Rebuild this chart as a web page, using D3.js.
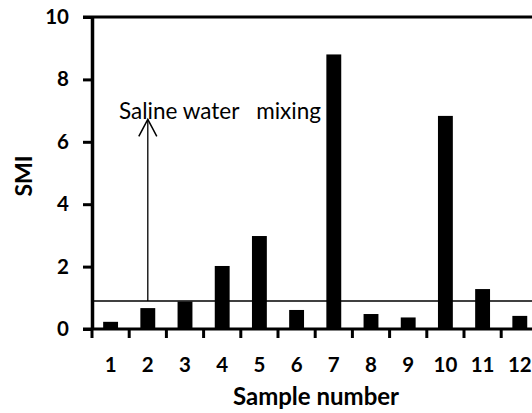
<!DOCTYPE html>
<html>
<head>
<meta charset="utf-8">
<script src="https://cdn.jsdelivr.net/npm/d3@7"></script>
<style>
  html, body { margin: 0; padding: 0; background: #fff; }
  svg { display: block; }
</style>
</head>
<body>
<svg id="chart" width="532" height="413"></svg>
<script>
// Sample numbers and their SMI values
const samples = ["1", "2", "3", "4", "5", "6", "7", "8", "9", "10", "11", "12"];
const smi = [0.23, 0.67, 0.88, 2.02, 2.98, 0.61, 8.8, 0.48, 0.37, 6.83, 1.28, 0.42];
const yTicks = [0, 2, 4, 6, 8, 10];

// Threshold line and the saline-mixing annotation
const threshold = 0.9;
const arrowSample = "2";
const arrowTop = 6.72;
const annotationText = "Saline water   mixing";

const svg = d3.select("#chart");
const W = 532, H = 413;
const plotLeft = 92, plotTop = 17, plotBottom = 329;
const step = 37.2;
const plotRight = plotLeft + step * samples.length;

const x = d3.scaleBand().domain(samples).range([plotLeft, plotRight]).paddingInner(0).paddingOuter(0);
const xBar = d3.scaleBand().domain(samples).range([plotLeft, plotRight]).paddingInner(0.6).paddingOuter(0.3);
const y = d3.scaleLinear().domain([0, 10]).range([plotBottom, plotTop]);

const font = "Lato, 'Open Sans', sans-serif";

// Bars
svg.append("g").selectAll("rect")
  .data(samples)
  .join("rect")
  .attr("x", d => xBar(d))
  .attr("width", xBar.bandwidth())
  .attr("y", (d, i) => y(smi[i]))
  .attr("height", (d, i) => y(0) - y(smi[i]))
  .attr("fill", "#000");

// Threshold line
svg.append("line")
  .attr("x1", plotLeft).attr("x2", W)
  .attr("y1", y(threshold)).attr("y2", y(threshold))
  .attr("stroke", "#000").attr("stroke-width", 1.5);

// Top frame line at the maximum of the value axis
svg.append("line")
  .attr("x1", plotLeft - 9).attr("x2", W)
  .attr("y1", y(10)).attr("y2", y(10))
  .attr("stroke", "#000").attr("stroke-width", 3);

// Y axis
const yAxis = svg.append("g")
  .attr("transform", `translate(${plotLeft},0)`)
  .call(d3.axisLeft(y).tickValues(yTicks).tickSize(9).tickPadding(14).tickSizeOuter(0));
yAxis.select(".domain").attr("stroke-width", 3.5);
yAxis.selectAll(".tick line").attr("stroke-width", 3);
yAxis.selectAll(".tick text")
  .attr("font-family", font).attr("font-weight", "bold").attr("font-size", 20.5).attr("fill", "#000");

// X axis: ticks sit on the band boundaries, labels at band centres
const xAxis = svg.append("g").attr("transform", `translate(0,${plotBottom})`);
xAxis.append("line")
  .attr("x1", plotLeft - 9).attr("x2", W)
  .attr("stroke", "#000").attr("stroke-width", 3);
xAxis.selectAll("line.tk")
  .data(samples)
  .join("line")
  .attr("class", "tk")
  .attr("x1", d => x(d)).attr("x2", d => x(d))
  .attr("y1", 0).attr("y2", 9)
  .attr("stroke", "#000").attr("stroke-width", 3);
xAxis.selectAll("text")
  .data(samples)
  .join("text")
  .attr("x", d => x(d) + x.bandwidth() / 2)
  .attr("y", 43)
  .attr("text-anchor", "middle")
  .attr("font-family", font).attr("font-weight", "bold").attr("font-size", 20.5)
  .text(d => d);

// Axis titles
svg.append("text")
  .attr("transform", "translate(32,176) rotate(-90)")
  .attr("text-anchor", "middle")
  .attr("font-family", font).attr("font-weight", "bold").attr("font-size", 23)
  .text("SMI");
svg.append("text")
  .attr("x", 316).attr("y", 405)
  .attr("text-anchor", "middle")
  .attr("font-family", font).attr("font-weight", "bold").attr("font-size", 24)
  .text("Sample number");

// Annotation arrow with open head
const ax = x(arrowSample) + x.bandwidth() / 2;
const ay0 = y(threshold), ay1 = y(arrowTop);
svg.append("line")
  .attr("x1", ax).attr("x2", ax).attr("y1", ay0).attr("y2", ay1)
  .attr("stroke", "#000").attr("stroke-width", 1.3);
svg.append("path")
  .attr("d", `M${ax - 9},${ay1 + 17}L${ax},${ay1}L${ax + 9},${ay1 + 17}`)
  .attr("fill", "none").attr("stroke", "#000").attr("stroke-width", 1.5);

svg.append("text")
  .attr("x", 119).attr("y", ay1)
  .attr("font-family", font).attr("font-size", 22.5)
  .style("white-space", "pre")
  .text(annotationText);
</script>
</body>
</html>
